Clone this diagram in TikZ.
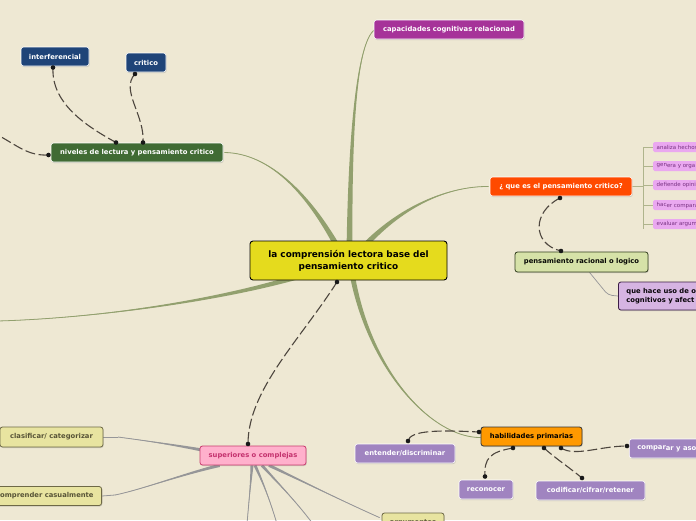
\documentclass[tikz,border=0pt]{standalone}
\usepackage{fontspec}
\setmainfont{DejaVu Sans}
\usetikzlibrary{calc,shadows}
\pgfdeclarelayer{back}
\pgfdeclarelayer{lines}
\pgfsetlayers{back,lines,main}
\definecolor{bg}{RGB}{238,232,211}
\definecolor{grn}{RGB}{146,160,110}
\definecolor{gry}{RGB}{150,150,152}
\definecolor{brk}{RGB}{175,180,140}
\definecolor{dashcol}{RGB}{77,70,62}
\definecolor{dotc}{RGB}{25,25,25}
\definecolor{ctrc}{RGB}{229,219,29}
\definecolor{capc}{RGB}{166,51,153}
\definecolor{bluec}{RGB}{31,68,120}
\definecolor{nivc}{RGB}{64,107,52}
\definecolor{quec}{RGB}{255,74,0}
\definecolor{pinkc}{RGB}{234,168,240}
\definecolor{pinkt}{RGB}{120,50,130}
\definecolor{prc}{RGB}{214,226,168}
\definecolor{prb}{RGB}{50,62,30}
\definecolor{usoc}{RGB}{214,180,226}
\definecolor{usob}{RGB}{60,30,70}
\definecolor{supc}{RGB}{255,176,204}
\definecolor{supb}{RGB}{200,60,110}
\definecolor{supt}{RGB}{196,50,110}
\definecolor{khc}{RGB}{232,228,160}
\definecolor{khb}{RGB}{110,105,70}
\definecolor{kht}{RGB}{88,84,55}
\definecolor{habc}{RGB}{255,153,0}
\definecolor{lavc}{RGB}{160,132,192}
\newcommand\taperline[6]{%
  \path (#2) coordinate (tS) (#3) coordinate (tA) (#4) coordinate (tB) (#5) coordinate (tE);
  \path ($(tS)!#6!90:(tA)$) coordinate (tS1) ($(tS)!#6!-90:(tA)$) coordinate (tS2);
  \fill[#1] (tS1) .. controls ($(tA)+0.5*(tS1)-0.5*(tS)$) and (tB) .. (tE)
     .. controls (tB) and ($(tA)+0.5*(tS2)-0.5*(tS)$) .. (tS2) -- cycle;
  \draw[#1, line width=0.8pt] (tS) .. controls (tA) and (tB) .. (tE);
}
\tikzset{
  box/.style={rounded corners=2.5pt, inner sep=0pt, minimum height=19pt, align=center,
    font=\bfseries\fontsize{6.8}{8}\selectfont,
    drop shadow={shadow xshift=0.7pt, shadow yshift=-1pt, opacity=0.3}},
  darkbox/.style={box, draw=white, line width=0.6pt, text=white},
  pinkbox/.style={rounded corners=1.5pt, inner xsep=3.5pt, inner ysep=0pt, minimum height=10pt,
    fill=pinkc, text=pinkt, font=\fontsize{5.5}{6}\selectfont, anchor=west},
  dot/.style={circle, fill=dotc, inner sep=0pt, minimum size=4.6pt},
  dashc/.style={draw=dashcol, line width=1.1pt, dash pattern=on 10pt off 3.5pt},
  grayl/.style={draw=gry, line width=0.8pt},
}
\begin{document}
\begin{tikzpicture}[x=1pt,y=-1pt]
\useasboundingbox (0,0) rectangle (696,520);
\begin{pgfonlayer}{back}
\fill[bg] (0,0) rectangle (696,520);
\end{pgfonlayer}
\clip (0,0) rectangle (696,520);

% ---- nodes
\node[draw=black, line width=0.9pt, fill=ctrc, rounded corners=3pt, minimum width=197pt,
  minimum height=39pt, align=center, inner sep=0pt,
  font=\bfseries\fontsize{8.9}{12}\selectfont] (ctr) at (348.5,260.5)
  {la comprensión lectora base del\\pensamiento critico};

\node[darkbox, fill=capc, minimum width=150pt] (cap) at (449,29.5) {capacidades cognitivas relacionad};
\node[darkbox, fill=bluec, minimum width=68pt] (inter) at (55,56.5) {interferencial};
\node[darkbox, fill=bluec, minimum width=40pt] (crit) at (146,62.5) {critico};
\node[darkbox, fill=nivc, minimum width=172pt] (niv) at (137,152.5) {niveles de lectura y pensamiento critico};
\node[darkbox, fill=quec, minimum width=142pt] (que) at (561,186.5) {¿ que es el pensamiento critico?};

\node[pinkbox] (p1) at (653,147) {analiza hechos};
\node[pinkbox] (p2) at (653,166) {\raisebox{1pt}{gen}era y orga};
\node[pinkbox] (p3) at (653,185) {defiende opini};
\node[pinkbox] (p4) at (653,205) {\raisebox{1pt}{hac}er compara};
\node[pinkbox] (p5) at (653,224) {evaluar argum};

\node[box, fill=prc, draw=prb, line width=0.8pt, text=black!85!prb, minimum width=133pt, minimum height=20pt] (pr) at (581.5,262) {pensamiento racional o logico};
\node[box, fill=usoc, draw=usob, line width=0.8pt, text=black!85!usob, anchor=west, inner xsep=8pt,
  minimum height=28pt, align=left, font=\bfseries\fontsize{6.8}{9}\selectfont] (uso) at (618,296)
  {que hace uso de o\\cognitivos y afect};

\node[box, fill=supc, draw=supb, line width=0.8pt, text=supt, minimum width=106pt] (sup) at (253,455.5) {superiores o complejas};
\node[box, fill=khc, draw=khb, line width=0.8pt, text=kht, minimum width=103pt, minimum height=20pt] (clas) at (51.5,437) {clasificar/ categorizar};
\node[box, fill=khc, draw=khb, line width=0.8pt, text=kht, anchor=east, inner xsep=8pt] (comp) at (102,496) {comprender casualmente};
\node[box, fill=khc, draw=khb, line width=0.8pt, text=kht, minimum width=62pt, minimum height=20pt] (arg) at (413,523) {argumentos};

\node[box, fill=habc, draw=black!80, line width=0.8pt, text=black, minimum width=101pt] (hab) at (531.5,436.5) {habilidades primarias};
\node[darkbox, fill=lavc, minimum width=100pt] (ent) at (405,453.5) {entender/discriminar};
\node[darkbox, fill=lavc, minimum width=54pt] (rec) at (486,489.5) {reconocer};
\node[darkbox, fill=lavc, minimum width=109pt] (cod) at (590.5,490.5) {codificar/cifrar/retener};
\node[darkbox, fill=lavc, anchor=west, inner xsep=8pt] (cmp) at (629,448.5) {compar\raisebox{-1.2pt}{ar y aso}};

% ---- off-picture ends
\coordinate (offL) at (-2,321);
\coordinate (offNL) at (-4,134);
\coordinate (offB1) at (247,524);
\coordinate (offB2) at (277,524);
\coordinate (offB3) at (313,524);

% ---- dots (connector ends)
\node[dot] (dI) at (53,67.5) {};
\node[dot] (dC) at (135,74) {};
\node[dot] (dN1) at (116,142.5) {};
\node[dot] (dN2) at (143,142.5) {};
\node[dot] (dNL) at (48.5,155) {};
\node[dot] (dQ) at (560,198) {};
\node[dot] (dP) at (561,251) {};
\node[dot] (dCt) at (337,282) {};
\node[dot] (dS) at (248,444) {};
\node[dot] (dH0) at (479,432) {};
\node[dot] (dH1) at (513,448) {};
\node[dot] (dH2) at (544,448) {};
\node[dot] (dH3) at (561,448) {};
\node[dot] (dE) at (408,441) {};
\node[dot] (dR) at (485,476.5) {};
\node[dot] (dK) at (582,478) {};
\node[dot] (dM) at (627,446) {};

\begin{pgfonlayer}{lines}
% ---- green tapered branches
\taperline{grn}{$(ctr.center)+(1,-8)$}{350,120}{358,42}{$(cap.west)+(1,0)$}{3pt}
\taperline{grn}{$(ctr.center)+(-8,-8)$}{310,195}{270,153}{$(niv.east)+(1,0)$}{3pt}
\taperline{grn}{$(ctr.center)+(10,-8)$}{400,205}{450,186}{$(que.west)+(-1,0)$}{3pt}
\taperline{grn}{$(ctr.center)+(-50,16)$}{220,300}{100,318}{offL}{2.6pt}
\taperline{grn}{$(ctr.center)+(3,10)$}{368,370}{432,438}{$(hab.west)+(0,1)$}{2.6pt}

% ---- gray branches
\taperline{gry}{$(sup.west)+(5,-5)$}{170,444}{140,440}{118,437}{1.6pt}
\draw[grayl] (118,437) -- (clas.east);
\taperline{gry}{$(sup.south west)+(20,0)$}{180,475}{140,490}{115,495}{1.6pt}
\draw[grayl] (115,495) -- (comp.east);
\taperline{gry}{$(sup.south)+(-1,0)$}{251,480}{249,500}{offB1}{1.5pt}
\taperline{gry}{$(sup.south)+(2,0)$}{262,480}{270,500}{offB2}{1.5pt}
\taperline{gry}{$(sup.south)+(9,0)$}{275,480}{295,500}{offB3}{1.5pt}
\taperline{gry}{$(sup.south)+(16,0)$}{300,480}{340,500}{$(arg.north west)+(-2,5)$}{1.5pt}

\draw[draw=gry, line width=0.7pt, rounded corners=4pt] ($(pr.south)+(8,0)$) -- (608,295) -- (uso.west);

% ---- bracket to pink nodes
\draw[brk, line width=0.7pt] (que.east) -- (643,186.5);
\draw[brk, line width=0.7pt] (643,147) -- (643,229);
\foreach \p in {p1,p2,p3,p4,p5} \draw[brk, line width=0.7pt] (643,0 |- \p.west) -- (\p.west);

% ---- dashed connectors
\draw[dashc] (dI.center) .. controls (51,105) and (90,128) .. (dN1.center);
\draw[dashc] (dC.center) .. controls (120,90) and (145,115) .. (dN2.center);
\draw[dashc] (dNL.center) .. controls (28,156) and (18,146) .. (offNL);
\draw[dashc] (dQ.center) .. controls (532,212) and (532,244) .. (dP.center);
\draw[dashc] (dCt.center) .. controls (300,340) and (248,390) .. (dS.center);
\draw[dashc] (dE.center) .. controls (410,430) and (440,430) .. (dH0.center);
\draw[dashc] (dH1.center) .. controls (490,452) and (484,458) .. (dR.center);
\draw[dashc] (dH2.center) .. controls (555,458) and (570,468) .. (dK.center);
\draw[dashc] (dH3.center) .. controls (575,457) and (600,446) .. (dM.center);
\end{pgfonlayer}
\end{tikzpicture}
\end{document}
